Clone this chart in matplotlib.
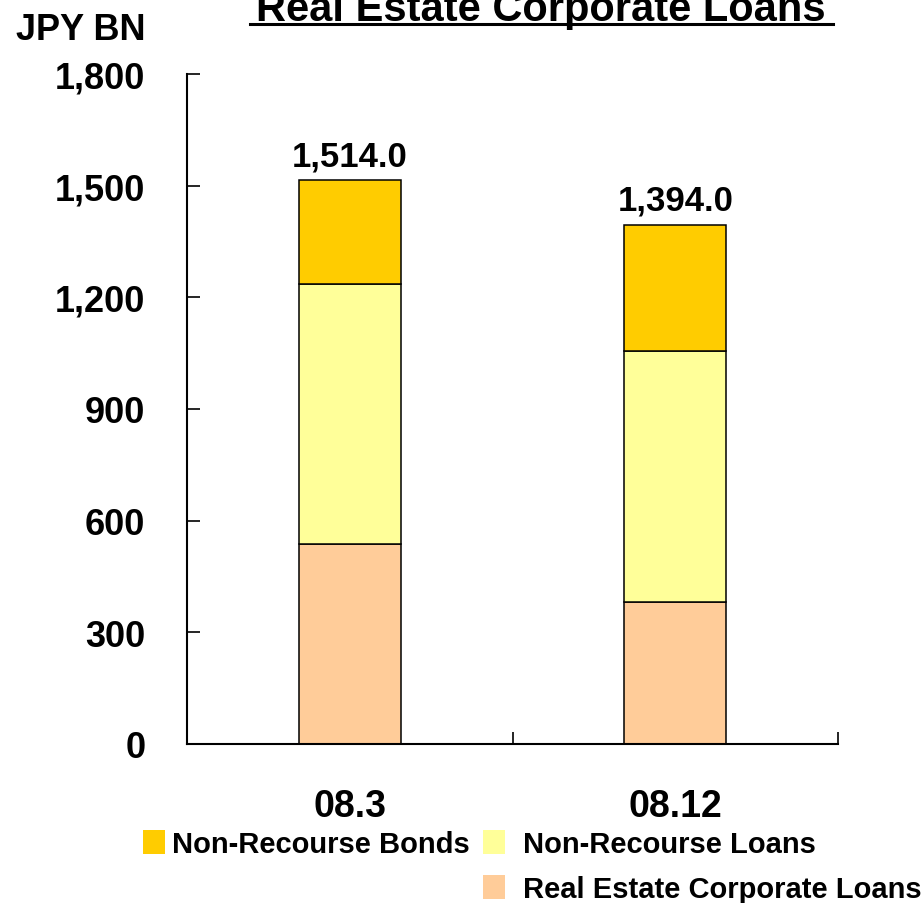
import numpy as np
import matplotlib.pyplot as plt
from matplotlib.patches import Patch
from matplotlib.lines import Line2D

plt.rcParams['font.family'] = ['Liberation Sans', 'DejaVu Sans']
plt.rcParams['font.weight'] = 'bold'

# Balances in JPY bn
periods = ["08.3", "08.12"]
corporate_loans = [537.0, 381.0]
nr_loans = [699.0, 675.0]
nr_bonds = [278.0, 338.0]
totals = [1514.0, 1394.0]
y_ticks = [0, 300, 600, 900, 1200, 1500, 1800]

c_bonds = "#FFCC00"
c_loans = "#FFFF99"
c_corp = "#FFCC99"

fig = plt.figure(figsize=(9.24, 9.04), dpi=100)
ax = fig.add_axes([187/924, 1 - 745/904, (838-187)/924, (745-75)/904])

x = np.arange(len(periods))
w = 0.313
corp = np.array(corporate_loans)
loans = np.array(nr_loans)
bonds = np.array(nr_bonds)

ax.bar(x, corp, w, color=c_corp, edgecolor="black", linewidth=1.1)
ax.bar(x, loans, w, bottom=corp, color=c_loans, edgecolor="black", linewidth=1.1)
ax.bar(x, bonds, w, bottom=corp + loans, color=c_bonds, edgecolor="black", linewidth=1.1)

for xi, t in zip(x, totals):
    ax.text(xi, t + 22, f"{t:,.1f}", ha="center", va="bottom", fontsize=25, fontweight="bold")

ax.set_xlim(-0.5, 1.5)
ax.set_ylim(0, 1800)
ax.set_yticks(y_ticks)
ax.set_yticklabels([f"{v:,}" for v in y_ticks])
ax.tick_params(axis="y", direction="in", length=9, width=1.2, pad=30, labelsize=26)

ax.set_xticks(x)
ax.set_xticklabels(periods)
ax.tick_params(axis="x", which="major", length=0, pad=32, labelsize=27)
ax.set_xticks([-0.5, 0.5, 1.5], minor=True)
ax.tick_params(axis="x", which="minor", direction="in", length=9, width=1.2)

for side in ["top", "right"]:
    ax.spines[side].set_visible(False)
for side in ["left", "bottom"]:
    ax.spines[side].set_linewidth(1.5)

for lbl in ax.get_xticklabels() + ax.get_yticklabels():
    lbl.set_fontweight("bold")

fig.text(145/924, 1 - 30/904, "JPY BN", ha="right", va="center", fontsize=26, fontweight="bold")

title = fig.text(541/924, 1 - 21/904, "Real Estate Corporate Loans", ha="center", va="baseline",
                 fontsize=30, fontweight="bold")
fig.add_artist(Line2D([250/924, 833/924], [1 - 25/904, 1 - 25/904], color="black", linewidth=2.2))

# legend entries, placed one by one
h_bonds = Patch(facecolor=c_bonds, edgecolor="none")
h_loans = Patch(facecolor=c_loans, edgecolor="none")
h_corp = Patch(facecolor=c_corp, edgecolor="none")
leg_kw = dict(frameon=False, handlelength=0.76, handleheight=0.86,
              borderpad=0, borderaxespad=0, prop={'weight': 'bold', 'size': 21})
fig.legend([h_bonds], ["Non-Recourse Bonds"], loc="center left",
           bbox_to_anchor=(143/924, 1 - 845/904), handletextpad=0.24, **leg_kw)
fig.legend([h_loans], ["Non-Recourse Loans"], loc="center left",
           bbox_to_anchor=(483/924, 1 - 845/904), handletextpad=0.62, **leg_kw)
fig.legend([h_corp], ["Real Estate Corporate Loans"], loc="center left",
           bbox_to_anchor=(483/924, 1 - 890/904), handletextpad=0.62, **leg_kw)

fig.savefig("out.png", dpi=100)
